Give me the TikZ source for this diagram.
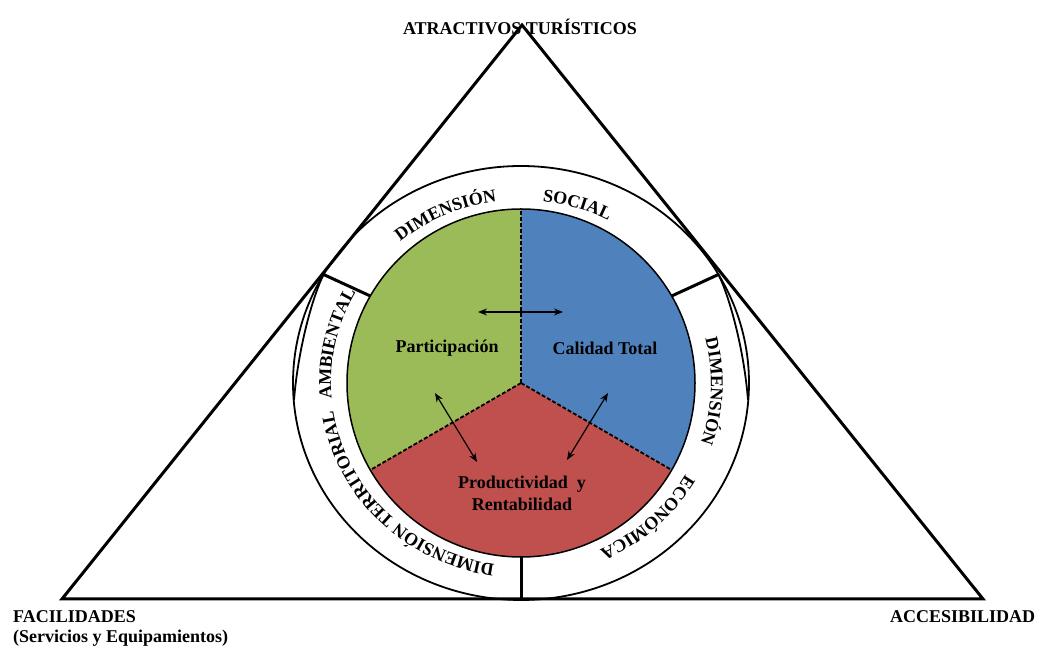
\documentclass[tikz,border=0pt]{standalone}
\usepackage{fontspec}
\setmainfont{Liberation Serif}
\usetikzlibrary{arrows.meta,decorations.text}
\definecolor{pgreen}{HTML}{9BBB59}
\definecolor{pblue}{HTML}{4F81BD}
\definecolor{pred}{HTML}{C0504D}
\newcommand\ringfont{\bfseries\fontsize{18}{18}\selectfont}
\begin{document}
\begin{tikzpicture}[x=1pt,y=1pt,
  tri/.style={line width=3pt, line join=miter},
  divider/.style={line width=3pt},
  ringline/.style={line width=1.8pt},
  pieedge/.style={line width=1.8pt, dash pattern=on 4pt off 2pt},
  lbl/.style={font=\bfseries\fontsize{18}{22}\selectfont, inner sep=0pt},
  biarrow/.style={{Stealth[length=9pt,width=7pt]}-{Stealth[length=9pt,width=7pt]}, line width=1.2pt},
  ringtext/.style={decorate, decoration={text along path, text align=left, text={|\ringfont|#1}}}
]
\useasboundingbox (0,0) rectangle (1039,650);
\coordinate (C) at (521,267);
\coordinate (A) at (522,625);
\coordinate (B) at (62,51);
\coordinate (D) at (983,51);

% pie sectors
\fill[pgreen] (C) -- ++(90:174) arc[start angle=90,end angle=210,radius=174] -- cycle;
\fill[pblue] (C) -- ++(-30:174) arc[start angle=-30,end angle=90,radius=174] -- cycle;
\fill[pred] (C) -- ++(210:174) arc[start angle=210,end angle=330,radius=174] -- cycle;
\draw[line width=1.5pt] (C) circle[radius=174];
\coordinate (p90) at ([shift={(90:174)}]C);
\coordinate (p210) at ([shift={(210:174)}]C);
\coordinate (p330) at ([shift={(330:174)}]C);
\draw[pieedge] (C) -- (p90);
\draw[pieedge] (C) -- (p210);
\draw[pieedge] (C) -- (p330);

% outer ring
\draw[ringline] (C) ellipse[x radius=228, y radius=217];
\coordinate (jl) at ([shift={(150:228 and 217)}]C);
\coordinate (jr) at ([shift={(30:228 and 217)}]C);
\coordinate (jb) at ([shift={(270:228 and 217)}]C);
\coordinate (il) at ([shift={(150:174)}]C);
\coordinate (ir) at ([shift={(30:174)}]C);
\coordinate (ib) at ([shift={(270:174)}]C);
\coordinate (ml) at (294,250);
\coordinate (mr) at (748,250);
\draw[ringline] (jl) .. controls (312,352) and (298,300) .. (ml);
\draw[ringline] (jr) .. controls (730,352) and (744,300) .. (mr);
\draw[divider] (il) -- (jl);
\draw[divider] (ir) -- (jr);
\draw[divider] (ib) -- (jb);

% triangle
\draw[tri] (A) -- (B) -- (D) -- cycle;

% ring texts
\path[ringtext={DIMENSIÓN}] ([shift={(129.5:190 and 183)}]C) arc[start angle=129.5, end angle=80, x radius=190, y radius=183];
\path[ringtext={SOCIAL}] ([shift={(83.5:190 and 183)}]C) arc[start angle=83.5, end angle=40, x radius=190, y radius=183];
\path[ringtext={DIMENSIÓN}] ([shift={(14:190 and 183)}]C) arc[start angle=14, end angle=-25, x radius=190, y radius=183];
\path[ringtext={ECONÓMICA}] ([shift={(-30:190 and 183)}]C) arc[start angle=-30, end angle=-80, x radius=190, y radius=183];
\path[ringtext={DIMENSIÓN TERRITORIAL}] ([shift={(262:190 and 183)}]C) arc[start angle=262, end angle=170, x radius=190, y radius=183];
\path[ringtext={AMBIENTAL}] ([shift={(185:190 and 183)}]C) arc[start angle=185, end angle=130, x radius=190, y radius=183];

% labels
\node[lbl] (top) at (520,623) {ATRACTIVOS TURÍSTICOS};
\node[lbl, anchor=west] (fac) at (13,33) {FACILIDADES};
\node[lbl, anchor=west] (serv) at (13,12) {(Servicios y Equipamientos)};
\node[lbl, anchor=west] (acc) at (890,33) {ACCESIBILIDAD};
\node[lbl] (part) at (447,302) {Participación};
\node[lbl] (cal) at (605,302) {Calidad Total};
\node[lbl, align=center] (prod) at (522,157) {Productividad\enspace y\\Rentabilidad};

% arrows
\coordinate (h1) at (478,338);
\coordinate (h2) at (563,338);
\coordinate (l1) at (435,257);
\coordinate (l2) at (477,188);
\coordinate (r1) at (608,257);
\coordinate (r2) at (567,190);
\draw[biarrow] (h1) -- (h2);
\draw[biarrow] (l1) -- (l2);
\draw[biarrow] (r1) -- (r2);
\end{tikzpicture}
\end{document}
